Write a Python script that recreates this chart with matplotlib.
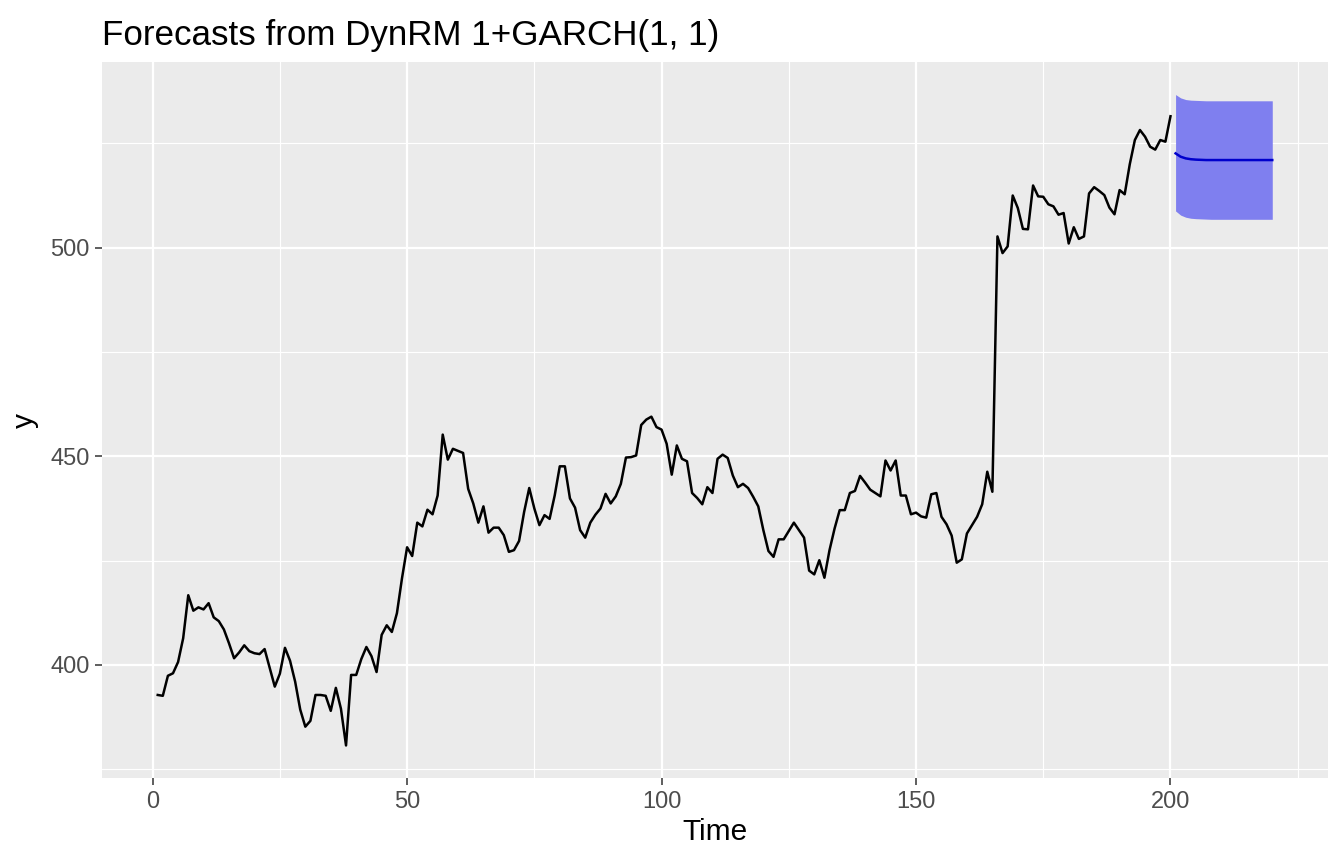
import numpy as np
import matplotlib
matplotlib.use("Agg")
import matplotlib.pyplot as plt

# observed series, t = 1..200
y = [392.8, 392.6, 397.4, 398.0, 400.7, 406.4, 416.7, 413.0, 413.8, 413.3,
     414.8, 411.4, 410.5, 408.5, 405.2, 401.6, 403.0, 404.7, 403.3, 402.8,
     402.6, 403.8, 399.3, 394.8, 397.9, 404.1, 401.0, 396.0, 389.3, 385.2,
     386.6, 392.8, 392.8, 392.6, 389.0, 394.5, 389.5, 380.7, 397.6, 397.6,
     401.4, 404.3, 402.1, 398.3, 407.2, 409.5, 407.9, 412.4, 420.8, 428.2,
     426.1, 434.1, 433.2, 437.2, 436.1, 440.6, 455.2, 449.2, 451.8, 451.3,
     450.8, 442.2, 438.7, 434.1, 438.0, 431.7, 432.9, 432.9, 431.1, 427.1,
     427.5, 429.7, 436.7, 442.4, 437.5, 433.5, 435.9, 435.0, 440.6, 447.6,
     447.6, 439.9, 437.7, 432.3, 430.5, 434.1, 436.0, 437.5, 441.0, 438.7,
     440.4, 443.4, 449.7, 449.8, 450.2, 457.5, 458.8, 459.5, 457.0, 456.4,
     453.0, 445.6, 452.6, 449.4, 448.8, 441.2, 440.0, 438.5, 442.6, 441.2,
     449.4, 450.4, 449.6, 445.4, 442.6, 443.4, 442.4, 440.3, 438.0, 432.3,
     427.3, 425.9, 430.1, 430.1, 432.1, 434.1, 432.3, 430.5, 422.6, 421.7,
     425.1, 420.9, 427.5, 432.7, 437.1, 437.1, 441.2, 441.7, 445.3, 443.7,
     442.0, 441.2, 440.4, 449.0, 446.6, 449.0, 440.6, 440.6, 436.1, 436.5,
     435.6, 435.3, 440.9, 441.2, 435.5, 433.7, 431.0, 424.5, 425.3, 431.5,
     433.5, 435.5, 438.5, 446.3, 441.5, 502.7, 498.7, 500.3, 512.5, 509.5,
     504.5, 504.4, 514.9, 512.3, 512.2, 510.4, 509.9, 507.9, 508.3, 501.0,
     504.9, 502.1, 502.7, 513.0, 514.5, 513.6, 512.6, 509.6, 508.0, 513.8,
     512.8, 520.0, 525.8, 528.2, 526.6, 524.2, 523.5, 525.8, 525.4, 531.5]

# forecast, t = 201..220
fc_mean = [522.6, 521.8, 521.4, 521.2, 521.1, 521.05, 521.0, 521.0, 521.0, 521.0,
           521.0, 521.0, 521.0, 521.0, 521.0, 521.0, 521.0, 521.0, 521.0, 521.0]
fc_upper = [536.7, 535.9, 535.5, 535.35, 535.3, 535.25, 535.2, 535.2, 535.2, 535.2,
            535.2, 535.2, 535.2, 535.2, 535.2, 535.2, 535.2, 535.2, 535.2, 535.2]
fc_lower = [508.8, 507.8, 507.3, 507.05, 506.95, 506.9, 506.85, 506.8, 506.8, 506.8,
            506.8, 506.8, 506.8, 506.8, 506.8, 506.8, 506.8, 506.8, 506.8, 506.8]

t = np.arange(1, len(y) + 1)
tf = np.arange(len(y) + 1, len(y) + 1 + len(fc_mean))

plt.rcParams['font.family'] = ['Liberation Sans', 'DejaVu Sans']

fig = plt.figure(figsize=(13.44, 8.65), dpi=100)
ax = fig.add_axes([102/1344, 1 - 778/865, (1328-102)/1344, (778-62)/865])
ax.set_facecolor('#EBEBEB')
for s in ax.spines.values():
    s.set_visible(False)

#grid, ggplot style
ax.set_xticks([0, 50, 100, 150, 200])
ax.set_xticks([25, 75, 125, 175, 225], minor=True)
ax.set_yticks([400, 450, 500])
ax.set_yticks([375, 425, 475, 525], minor=True)
ax.grid(True, which='major', color='white', linewidth=1.6)
ax.grid(True, which='minor', color='white', linewidth=0.8)
ax.set_axisbelow(True)
ax.tick_params(which='minor', length=0)
ax.tick_params(which='major', length=5, width=1.1, color='#333333',
               labelsize=17, labelcolor='#4D4D4D', pad=4)

ax.plot(t, y, color='black', linewidth=1.8)
ax.fill_between(tf, fc_lower, fc_upper, color='#7F7FEF', linewidth=0)
ax.plot(tf, fc_mean, color='#0000CC', linewidth=1.8)

# ggplot 5% expansion
xs = list(t) + list(tf)
ys = y + fc_upper + fc_lower
xr = max(xs) - min(xs)
yr = max(ys) - min(ys)
ax.set_xlim(min(xs) - 0.05*xr, max(xs) + 0.05*xr)
ax.set_ylim(min(ys) - 0.05*yr, max(ys) + 0.05*yr)

ax.set_xlabel('Time', fontsize=21.5, labelpad=4)
ax.set_ylabel('y', fontsize=21.5, labelpad=8)
fig.text(102/1344, 1 - 45/865, 'Forecasts from DynRM 1+GARCH(1, 1)',
         fontsize=25.2, ha='left', va='baseline')

fig.savefig('out.png', dpi=100)
